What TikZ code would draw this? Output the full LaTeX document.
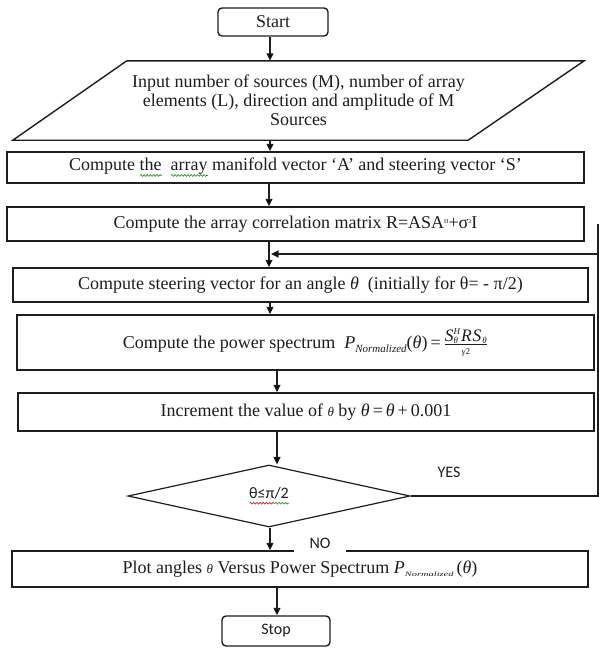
\documentclass[tikz,border=0pt]{standalone}
\usepackage{fontspec}
\usepackage{amsmath}
\usepackage{graphicx}
\setmainfont{Liberation Serif}
\newfontfamily\uisans{Carlito}
\usetikzlibrary{arrows.meta,shapes.geometric,decorations.pathmorphing}

\definecolor{ink}{HTML}{1E1E1E}
\definecolor{spellred}{HTML}{E02020}
\definecolor{spellgreen}{HTML}{2E9A2E}

% wavy spell-check underline under a word
\newsavebox\wavebox
\newcommand\wavy[2]{\sbox\wavebox{#2}\rlap{\tikz[baseline=0pt]\draw[#1, line width=0.7pt, decorate,
    decoration={snake, amplitude=0.9pt, segment length=3.2pt}] (0pt,-4.5pt) -- (\wd\wavebox,-4.5pt);}\usebox\wavebox}

% small italic pieces of the formulas
\newcommand\tinyit[2]{{\fontsize{#1}{#1}\selectfont\textit{#2}}}
\newcommand\numer{\tinyit{17.5}{S}\rlap{\raisebox{7.5pt}{\tinyit{9}{H}}}\raisebox{-2pt}{\tinyit{9}{θ}}\kern3pt\tinyit{17.5}{R}\kern1pt\tinyit{17.5}{S}\kern1pt\raisebox{-2pt}{\tinyit{9}{θ}}}
\newcommand\denom{\tinyit{9}{γ}{\fontsize{9}{9}\selectfont 2}}
\newcommand\sups[1]{\raisebox{5pt}{\fontsize{6}{6}\selectfont #1}}

\begin{document}
\begin{tikzpicture}[x=1pt,y=-1pt,
  every node/.style={font=\fontsize{18}{20.5}\selectfont, text=ink},
  proc/.style={draw=ink, line width=1.4pt, rectangle, inner sep=0pt, align=center},
  term/.style={proc, rounded corners=4pt},
  decision/.style={draw=ink, line width=1.2pt, diamond, inner sep=0pt, aspect=4.5},
  arr/.style={draw=ink, line width=1.2pt, -{Triangle[length=7.5pt,width=7pt]}},
  tag/.style={font=\uisans\fontsize{16}{18}\selectfont, inner sep=2pt}]

\fill[white] (0,0) rectangle (599,648);
\useasboundingbox (0,0) rectangle (599,648);

% arrow columns
\coordinate (x269) at (269,0);
\coordinate (x270) at (270,0);
\coordinate (x277) at (277,0);

% terminals and steps
\node[term, minimum width=110pt, minimum height=28pt] (start) at (273,22) {Start};

\node[inner sep=0pt, minimum width=571pt, minimum height=79pt, align=center,
      font=\fontsize{18}{19}\selectfont] (input) at (298.5,100.5)
  {Input number of sources (M), number of array\\elements (L), direction and amplitude of M\\Sources};
\draw[ink, line width=1.4pt]
  ([xshift=114pt]input.north west) -- (input.north east)
  -- ([xshift=-116pt]input.south east) -- (input.south west) -- cycle;

\node[proc, minimum width=577pt, minimum height=31pt] (manifold) at (295.5,167.5)
  {Compute \wavy{spellgreen}{the}\ \ \wavy{spellgreen}{array} manifold vector ‘A’ and steering vector ‘S’};

\node[proc, minimum width=577pt, minimum height=34pt] (corr) at (295.5,224)
  {Compute the array correlation matrix R=ASA\sups{H}+σ\sups{2}I};

\node[proc, minimum width=575pt, minimum height=34pt] (steer) at (300.5,285)
  {Compute steering vector for an angle \textit{θ}\ \ (initially for θ= - π/2)};

\node[proc, minimum width=577pt, minimum height=55pt] (power) at (305.5,342.5)
  {Compute the power spectrum \ \textit{P}\raisebox{-3.5pt}{\tinyit{11}{Normalized}}(\textit{θ})\,=\,$\genfrac{}{}{0.7pt}{1}{\hbox{\numer}}{\hbox{\denom}}$};

\node[proc, minimum width=576pt, minimum height=38pt] (incr) at (306,412)
  {Increment the value of \tinyit{13}{θ} by \textit{θ}\,=\,\textit{θ}\,+\,0.001};

\node[decision, minimum width=282pt, minimum height=62pt] (decide) at (269,496)
  {\uisans\fontsize{16}{18}\selectfont\wavy{spellred}{θ≤π}\wavy{spellgreen}{/2}};

\node[proc, minimum width=576pt, minimum height=36pt] (plot) at (300,569)
  {Plot angles \tinyit{13}{θ} Versus Power Spectrum \textit{P}\raisebox{-3pt}{\scalebox{1.6}[1]{\tinyit{6.5}{Normalized}}}\,(\textit{θ})};

\node[term, font=\uisans\fontsize{16}{18}\selectfont, minimum width=108pt, minimum height=30pt] (stop) at (276,631) {Stop};

% branch labels
\node[tag] (yes) at (449,472) {YES};
\node[tag, fill=white, minimum width=52pt, minimum height=20pt] (no) at (320,543) {NO};

% main flow
\draw[arr] (start.south -| x270) -- (input.north -| x270);
\draw[arr] (input.south -| x270) -- (manifold.north -| x270);
\draw[arr] (manifold.south -| x269) -- (corr.north -| x269);
\draw[arr] (corr.south -| x269) -- (steer.north -| x269);
\draw[arr] (steer.south -| x270) -- (power.north -| x270);
\draw[arr] (power.south -| x277) -- (incr.north -| x277);
\draw[arr] (incr.south -| x277) -- (decide.north -| x277);
\draw[arr] (decide.south -| x270) -- (plot.north -| x270);
\draw[arr] (plot.south -| x277) -- (stop.north -| x277);

% loop back while theta <= pi/2
\coordinate (loopcorner) at (598,254);
\coordinate (loopin) at (271,254);
\draw[arr] (decide.east) -| (loopcorner) -- (loopin);
\draw[ink, line width=1.2pt] (loopcorner) -- ++(0,-30);
\end{tikzpicture}
\end{document}
